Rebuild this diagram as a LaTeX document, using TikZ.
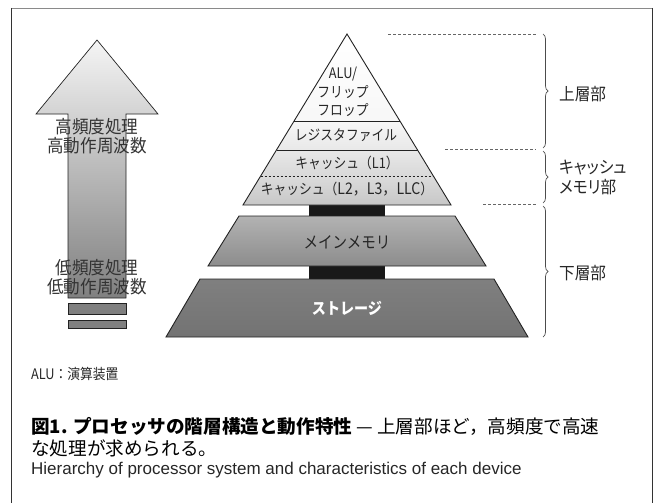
\documentclass[tikz,border=0pt]{standalone}
\usepackage{fontspec}
\setmainfont{Liberation Sans}
\newfontfamily\jp{Noto Sans CJK JP}
\newfontfamily\jpc[FakeStretch=0.88]{Noto Sans CJK JP}
\newfontfamily\jpn[FakeStretch=0.92]{Noto Sans CJK JP}
\newfontfamily\jpp[FakeStretch=0.92,RawFeature=+palt]{Noto Sans CJK JP}
\usetikzlibrary{decorations.pathreplacing}
\definecolor{frameDark}{HTML}{333333}
\definecolor{frameTop}{HTML}{8A8A8A}
\definecolor{edge}{HTML}{222222}
\tikzset{
  layer/.style={draw=edge, line width=0.9pt},
  lbl/.style={font=\jpc\fontsize{14.5}{16}\selectfont, text=black!85, inner sep=0pt},
  arrowlbl/.style={font=\jpn\fontsize{18}{19.5}\selectfont, text=black!80, inner sep=0pt, align=center},
  sidelbl/.style={font=\jpp\fontsize{17}{20}\selectfont, text=black!85, inner sep=0pt, anchor=west, align=left},
  guide/.style={draw=black!60, dashed, dash pattern=on 3pt off 2pt, line width=0.6pt},
  bracepath/.style={draw=black!70, line width=0.7pt, decorate, decoration={brace, amplitude=5pt}},
}
\begin{document}
\begin{tikzpicture}[x=1pt,y=-1pt]
\useasboundingbox (0,0) rectangle (655,503);
% frame
\draw[frameTop, line width=1.2pt] (11,8.6) -- (653,8.6);
\draw[frameDark, line width=1pt] (11,8) -- (11,503);
\draw[frameDark, line width=1pt] (652.5,8) -- (652.5,503);

% ---- left arrow ----
\path[top color=black!4, bottom color=black!50, draw=edge, line width=0.7pt]
  (97,40) -- (158,114) -- (126,114) -- (126,298) -- (68,298) -- (68,114) -- (36,114) -- cycle;
\path[fill=black!50, draw=edge, line width=0.7pt] (68,303) rectangle (126,314);
\path[fill=black!50, draw=edge, line width=0.7pt] (68,320) rectangle (126,328);
\node[arrowlbl] (hi) at (97,136) {高頻度処理\\高動作周波数};
\node[arrowlbl] (lo) at (97,277) {低頻度処理\\低動作周波数};

% ---- black connectors ----
\fill[black!90] (309,203) rectangle (385,217);
\fill[black!90] (309,265) rectangle (385,280);

% ---- pyramid top (triangle) ----
\path[top color=white, bottom color=black!3] (347,34) -- (399.9,121) -- (294.1,121) -- cycle;
\path[top color=black!3, bottom color=black!9] (294.1,121) -- (399.9,121) -- (417.5,150) -- (276.5,150) -- cycle;
\path[top color=black!9, bottom color=black!15] (276.5,150) -- (417.5,150) -- (433.3,176) -- (260.7,176) -- cycle;
\path[top color=black!14, bottom color=black!22] (260.7,176) -- (433.3,176) -- (451,205) -- (243,205) -- cycle;
\draw[layer] (347,34) -- (451,205) -- (243,205) -- cycle;
\draw[layer] (294.1,121) -- (399.9,121);
\draw[layer] (276.5,150) -- (417.5,150);
\draw[edge, dashed, dash pattern=on 2.5pt off 1.5pt, line width=0.7pt] (260.7,176) -- (433.3,176);

% ---- main memory ----
\path[top color=black!30, bottom color=black!45, draw=edge, line width=0.9pt]
  (239,216) -- (455,216) -- (486,266) -- (208,266) -- cycle;
% ---- storage ----
\path[top color=black!50, bottom color=black!55, draw=edge, line width=0.9pt]
  (200,279) -- (494,279) -- (528,337) -- (166,337) -- cycle;

% labels in pyramid
\node[lbl] (alu) at (343,74) {ALU/};
\node[lbl] (ff1) at (343,92) {フリップ};
\node[lbl] (ff2) at (343,110.5) {フロップ};
\node[lbl] (reg) at (346,135) {レジスタファイル};
\node[lbl] (l1) at (347,163) {キャッシュ（L1）};
\node[lbl] (l2) at (347,189) {キャッシュ（{\fontsize{16}{16}\selectfont L2，L3，LLC}）};
\node[lbl, font=\jpc\fontsize{16.5}{18}\selectfont] (mm) at (347,242) {メインメモリ};
\node[lbl, font=\jpc\fontsize{16}{18}\selectfont\bfseries, text=white] (st) at (347,308) {ストレージ};

% ---- guide dashed lines ----
\coordinate (g1a) at (388,34);  \coordinate (g1b) at (536,34);
\coordinate (g2a) at (445,149); \coordinate (g2b) at (536,149);
\coordinate (g3a) at (483,204); \coordinate (g3b) at (536,204);
\draw[guide] (g1a) -- (g1b);
\draw[guide] (g2a) -- (g2b);
\draw[guide] (g3a) -- (g3b);

% ---- braces ----
\coordinate (b1a) at (543,34);  \coordinate (b1b) at (543,148);
\coordinate (b2a) at (543,151); \coordinate (b2b) at (543,203);
\coordinate (b3a) at (543,206); \coordinate (b3b) at (543,337);
\draw[bracepath] (b1a) -- (b1b);
\draw[bracepath] (b2a) -- (b2b);
\draw[bracepath] (b3a) -- (b3b);
\node[sidelbl] (up) at (559,94) {上層部};
\node[sidelbl] (cm) at (559,177) {キャッシュ\\メモリ部};
\node[sidelbl] (lw) at (559,273) {下層部};

% ---- notes & caption ----
\node[anchor=west, inner sep=0pt, font=\jpc\fontsize{14.5}{16}\selectfont, text=black!85] (note) at (31,374) {ALU：演算装置};
\node[anchor=west, inner sep=0pt, font=\jp\fontsize{18.6}{21}\selectfont] (cap1) at (31,426) {{\bfseries 図1. プロセッサの階層構造と動作特性} — 上層部ほど，高頻度で高速};
\node[anchor=west, inner sep=0pt, font=\jp\fontsize{18.6}{21}\selectfont] (cap2) at (31,448) {な処理が求められる。};
\node[anchor=west, inner sep=0pt, font=\fontsize{17}{19}\selectfont, text=black!85] (en) at (31,470) {Hierarchy of processor system and characteristics of each device};
\end{tikzpicture}
\end{document}
